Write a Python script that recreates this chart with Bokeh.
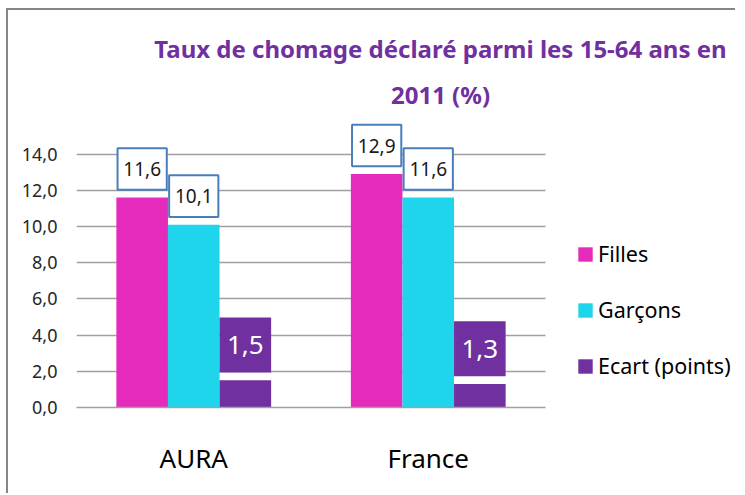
from bokeh.plotting import figure
from bokeh.models import (Range1d, FixedTicker, CustomJSTickFormatter,
                          ColumnDataSource, Label, Legend, LegendItem)
from bokeh.transform import dodge
from bokeh.core.properties import value
from bokeh.embed import file_html
from bokeh.resources import INLINE

# ---- data ----
categories = ["AURA", "France"]
filles = [11.6, 12.9]
garcons = [10.1, 11.6]
ecart = [1.5, 1.3]
series_names = ["Filles", "Garçons", "Ecart (points)"]
y_ticks = [0, 2, 4, 6, 8, 10, 12, 14]
title_lines = ["Taux de chomage déclaré parmi les 15-64 ans en", "2011 (%)"]

# ---- style / layout ----
FONT = "Noto Sans"
C_F = "#E52BBB"
C_G = "#1FD5EC"
C_E = "#7030A0"
C_BOX = "#4A7EBB"
GRID = "#A0A0A0"
FRAME_COLOR = "#868686"

FIG_W, FIG_H = 729, 485
FRAME_L, FRAME_B = 68, 397           # frame left / bottom in figure px
CAT_PX = 234.5                       # pixel width of one category
PX_PER_UNIT = 253.3 / 14
x_end = (FIG_W - FRAME_L) / CAT_PX
y_end = FRAME_B / PX_PER_UNIT


def fmt(v):
    return f"{v:.1f}".replace(".", ",")


W = 0.22
BOX_W = 0.21
BOX_H = 2.3
E_BOX_H = 3.04
GAP = 0.43

xc = [i + 0.5 for i in range(len(categories))]
src = ColumnDataSource(dict(
    xc=xc, filles=filles, garcons=garcons, ecart=ecart,
    f_lab=[fmt(v) for v in filles], g_lab=[fmt(v) for v in garcons], e_lab=[fmt(v) for v in ecart],
    f_box=[v + GAP + BOX_H / 2 for v in filles],
    g_box=[v + GAP + BOX_H / 2 for v in garcons],
    e_box=[v + GAP + E_BOX_H / 2 for v in ecart],
))

p = figure(x_range=Range1d(0, x_end), y_range=Range1d(0, y_end),
           width=FIG_W, height=FIG_H, output_backend="svg", toolbar_location=None,
           min_border_left=FRAME_L, min_border_right=0, min_border_top=0,
           min_border_bottom=FIG_H - FRAME_B)
p.outline_line_color = None
p.background_fill_color = "white"
p.border_fill_color = "white"
p.styles = {"margin-left": "6px", "margin-top": "8px",
            "border-left": f"2px solid {FRAME_COLOR}", "border-top": f"2px solid {FRAME_COLOR}"}

xf = dodge("xc", -W)
xg = dodge("xc", 0.0)
xe = dodge("xc", W)

r1 = p.vbar(x=xf, top="filles", width=W, source=src, fill_color=C_F, line_color=None)
r2 = p.vbar(x=xg, top="garcons", width=W, source=src, fill_color=C_G, line_color=None)
r3 = p.vbar(x=xe, top="ecart", width=W, source=src, fill_color=C_E, line_color=None)

# data labels
for xx, ycol, lab in [(xf, "f_box", "f_lab"), (xg, "g_box", "g_lab")]:
    p.rect(x=xx, y=ycol, width=BOX_W, height=BOX_H, source=src, fill_color="white",
           line_color=C_BOX, line_width=2)
    p.text(x=xx, y=ycol, text=lab, source=src, text_align="center", text_baseline="middle",
           text_font=value(FONT), text_font_size="19px", text_color="#1a1a1a")
p.rect(x=xe, y="e_box", width=W, height=E_BOX_H, source=src, fill_color=C_E, line_color=None)
p.text(x=xe, y="e_box", text="e_lab", source=src, text_align="center", text_baseline="middle",
       text_font=value(FONT), text_font_size="26px", text_color="white")

# axes
p.yaxis.ticker = FixedTicker(ticks=y_ticks)
p.yaxis.formatter = CustomJSTickFormatter(code="return tick.toFixed(1).replace('.', ',');")
p.yaxis.axis_line_color = None
p.yaxis.major_tick_line_color = None
p.yaxis.minor_tick_line_color = None
p.yaxis.major_tick_out = 0
p.yaxis.major_label_standoff = 19
p.yaxis.major_label_text_font = FONT
p.yaxis.major_label_text_font_size = "18px"
p.yaxis.major_label_text_color = "#262626"

p.xaxis.ticker = FixedTicker(ticks=xc)
p.xaxis.major_label_overrides = {x: c for x, c in zip(xc, categories)}
p.xaxis.bounds = (0, len(categories))
p.xaxis.axis_line_color = GRID
p.xaxis.axis_line_width = 1.5
p.xaxis.major_tick_line_color = None
p.xaxis.minor_tick_line_color = None
p.xaxis.major_tick_out = 0
p.xaxis.major_label_standoff = 32
p.xaxis.major_label_text_font = FONT
p.xaxis.major_label_text_font_size = "26px"
p.xaxis.major_label_text_color = "black"

p.xgrid.grid_line_color = None
p.ygrid.grid_line_color = GRID
p.ygrid.grid_line_width = 1.5
p.ygrid.ticker = FixedTicker(ticks=y_ticks)
p.ygrid.cross_bounds = (0, len(categories))

# title (two lines)
for txt, yy in zip(title_lines, [359, 313]):
    p.add_layout(Label(x=364, y=yy, x_units="screen", y_units="screen", text=txt,
                       text_align="center", text_baseline="alphabetic", text_font=FONT,
                       text_font_style="bold", text_font_size="24px", text_color=C_E))

legend = Legend(items=[LegendItem(label=n, renderers=[r]) for n, r in zip(series_names, [r1, r2, r3])],
                location=(500, 27), orientation="vertical", padding=0, margin=0,
                border_line_color=None, background_fill_alpha=0,
                glyph_width=18, glyph_height=18, label_height=28, spacing=27, label_standoff=4,
                label_text_font=FONT, label_text_font_size="21.5px", label_text_color="black")
p.add_layout(legend)

open("out.html", "w").write(file_html(p, INLINE))
